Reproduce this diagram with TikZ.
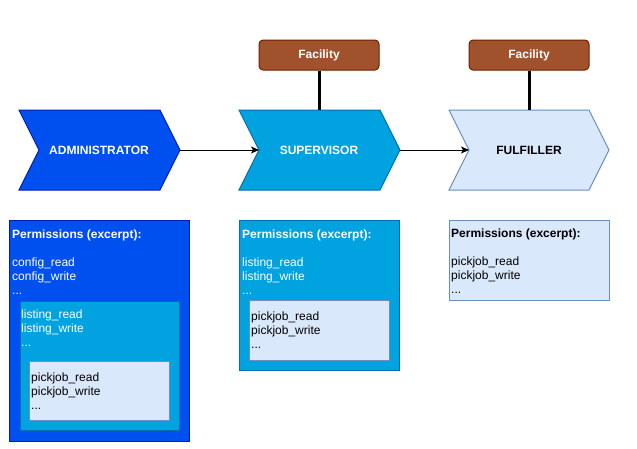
\documentclass[tikz,border=0pt]{standalone}
\usepackage{fontspec}
\setmainfont{Liberation Sans}
\usetikzlibrary{arrows.meta}
\definecolor{adminfill}{HTML}{0050EF}
\definecolor{adminline}{HTML}{001DBC}
\definecolor{supfill}{HTML}{00A2DF}
\definecolor{supline}{HTML}{006EAF}
\definecolor{fulfill}{HTML}{DAE8FC}
\definecolor{fulline}{HTML}{6C8EBF}
\definecolor{facfill}{HTML}{A0522D}
\definecolor{facline}{HTML}{6D1F00}
\begin{document}
\begin{tikzpicture}[x=1pt,y=-1pt,
  chev/.style={line width=1pt, line join=miter},
  chevlabel/.style={font=\fontsize{12}{14}\selectfont\bfseries, inner sep=0pt},
  flow/.style={line width=1pt, -{Stealth[length=8pt,width=7pt,inset=2pt]}},
  facbox/.style={draw=facline, fill=facfill, line width=1pt, rounded corners=4pt,
    minimum width=120pt, minimum height=30pt, inner sep=0pt, text=white,
    font=\fontsize{12}{14}\selectfont\bfseries},
  stem/.style={line width=3pt, black},
  permbox/.style={rectangle, line width=1pt, inner sep=0pt, anchor=north west},
  txt/.style={anchor=base west, inner sep=0pt, font=\fontsize{12}{14}\selectfont}
]
\fill[white] (0,0) rectangle (637,448);
\useasboundingbox (0,0) rectangle (637,448);

% chevrons
\draw[chev, fill=adminfill, draw=adminline] (19,110) -- (160,110) -- (180,150) -- (160,190) -- (19,190) -- (39,150) -- cycle;
\draw[chev, fill=supfill, draw=supline] (239,110) -- (380,110) -- (400,150) -- (380,190) -- (239,190) -- (259,150) -- cycle;
\draw[chev, fill=fulfill, draw=fulline] (449,110) -- (589,110) -- (609,150) -- (589,190) -- (449,190) -- (469,150) -- cycle;

\node[chevlabel, text=white] (admin) at (99,150) {ADMINISTRATOR};
\node[chevlabel, text=white] (sup) at (319,150) {SUPERVISOR};
\node[chevlabel, text=black] (ful) at (529,150) {FULFILLER};

\coordinate (admintip) at (180,150);
\coordinate (supnotch) at (259,150);
\coordinate (suptip) at (400,150);
\coordinate (fulnotch) at (469,150);
\coordinate (suptop) at (319,110);
\coordinate (fultop) at (529,110);

\draw[flow] (admintip) -- (supnotch);
\draw[flow] (suptip) -- (fulnotch);

% facilities
\node[facbox] (facsup) at (319,55) {Facility};
\node[facbox] (facful) at (529,55) {Facility};
\draw[stem] (facsup.south) -- (suptop);
\draw[stem] (facful.south) -- (fultop);

% permission boxes
\node[permbox, fill=adminfill, draw=adminline, minimum width=180pt, minimum height=221pt] (adminperm) at (9,220) {};
\node[permbox, fill=supfill, draw=supline, minimum width=159pt, minimum height=129pt] (adminlist) at (20,301) {};
\node[permbox, fill=fulfill, draw=fulline, minimum width=140pt, minimum height=59pt] (adminpick) at (29,361) {};

\node[permbox, fill=supfill, draw=supline, minimum width=160pt, minimum height=150pt] (supperm) at (239,220) {};
\node[permbox, fill=fulfill, draw=fulline, minimum width=140pt, minimum height=60pt] (suppick) at (249,300) {};

\node[permbox, fill=fulfill, draw=fulline, minimum width=160pt, minimum height=80pt] (fulperm) at (449,220) {};

% texts
\node[txt, text=white] (admintxt) at (12,238) {\begin{tabular}[t]{@{}l@{}}\textbf{Permissions (excerpt):}\\ \\ config\_read\\ config\_write\\ ...\end{tabular}};
\node[txt, text=white] (adminlisttxt) at (21,318) {\begin{tabular}[t]{@{}l@{}}listing\_read\\ listing\_write\\ ...\end{tabular}};
\node[txt, text=black] (adminpicktxt) at (31,381) {\begin{tabular}[t]{@{}l@{}}pickjob\_read\\ pickjob\_write\\ ...\end{tabular}};

\node[txt, text=white] (suptxt) at (242,238) {\begin{tabular}[t]{@{}l@{}}\textbf{Permissions (excerpt):}\\ \\ listing\_read\\ listing\_write\\ ...\end{tabular}};
\node[txt, text=black] (suppicktxt) at (251,320) {\begin{tabular}[t]{@{}l@{}}pickjob\_read\\ pickjob\_write\\ ...\end{tabular}};

\node[txt, text=black] (fultxt) at (451,237) {\begin{tabular}[t]{@{}l@{}}\textbf{Permissions (excerpt):}\\ \\ pickjob\_read\\ pickjob\_write\\ ...\end{tabular}};
\end{tikzpicture}
\end{document}
